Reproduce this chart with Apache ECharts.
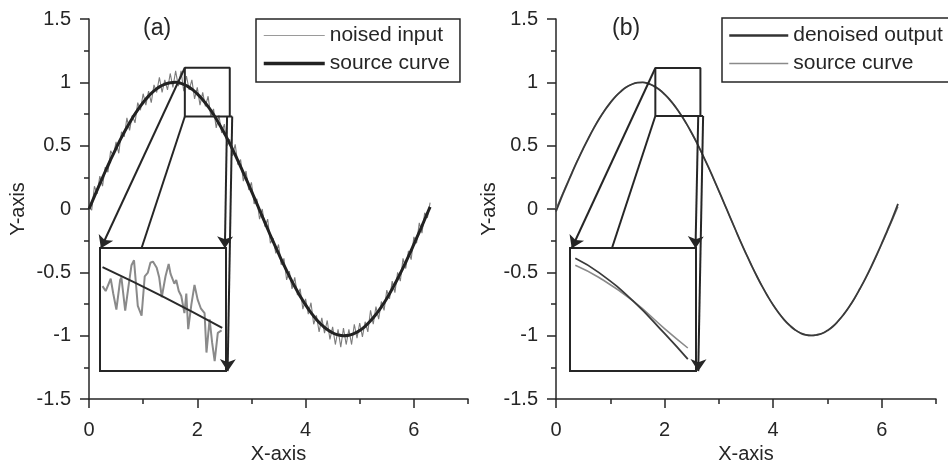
<!DOCTYPE html>
<html><head><meta charset="utf-8">
<script src="https://cdn.jsdelivr.net/npm/echarts@6/dist/echarts.min.js"></script>
<style>html,body{margin:0;padding:0;background:#fff}#c{width:948px;height:463px}</style>
</head><body><div id="c"></div>
<script>
// ---------- data ----------
const srcX = [0,0.1,0.2,0.3,0.4,0.5,0.6,0.7,0.8,0.9,1.0,1.1,1.2,1.3,1.4,1.5,1.6,1.7,1.8,1.9,2.0,2.1,2.2,2.3,2.4,2.5,2.6,2.7,2.8,2.9,3.0,3.1,3.2,3.3,3.4,3.5,3.6,3.7,3.8,3.9,4.0,4.1,4.2,4.3,4.4,4.5,4.6,4.7,4.8,4.9,5.0,5.1,5.2,5.3,5.4,5.5,5.6,5.7,5.8,5.9,6.0,6.1,6.2,6.3];
const srcY = [0.000,0.100,0.199,0.296,0.389,0.479,0.565,0.644,0.717,0.783,0.841,0.891,0.932,0.964,0.985,0.997,1.000,0.992,0.974,0.946,0.909,0.863,0.808,0.746,0.675,0.598,0.516,0.427,0.335,0.239,0.141,0.042,-0.058,-0.158,-0.256,-0.351,-0.443,-0.530,-0.612,-0.688,-0.757,-0.818,-0.872,-0.916,-0.952,-0.978,-0.994,-1.000,-0.996,-0.982,-0.959,-0.926,-0.883,-0.832,-0.773,-0.706,-0.631,-0.551,-0.465,-0.374,-0.279,-0.182,-0.083,0.017];
const denoisedY = [-0.02,0.09,0.19,0.29,0.385,0.475,0.56,0.64,0.715,0.78,0.838,0.889,0.93,0.963,0.985,0.997,1.0,0.99,0.97,0.943,0.905,0.86,0.806,0.745,0.676,0.6,0.518,0.43,0.338,0.242,0.143,0.043,-0.058,-0.158,-0.257,-0.352,-0.444,-0.531,-0.613,-0.689,-0.758,-0.819,-0.873,-0.917,-0.953,-0.979,-0.994,-0.998,-0.993,-0.983,-0.96,-0.928,-0.884,-0.832,-0.772,-0.704,-0.628,-0.547,-0.46,-0.368,-0.272,-0.172,-0.07,0.04];
const noiseX = [0,0.05,0.1,0.15,0.2,0.25,0.3,0.35,0.4,0.45,0.5,0.55,0.6,0.65,0.7,0.75,0.8,0.85,0.9,0.95,1.0,1.05,1.1,1.15,1.2,1.25,1.3,1.35,1.4,1.45,1.5,1.55,1.6,1.65,1.7,1.75,1.8,1.85,1.9,1.95,2.0,2.05,2.1,2.15,2.2,2.25,2.3,2.35,2.4,2.45,2.5,2.55,2.6,2.65,2.7,2.75,2.8,2.85,2.9,2.95,3.0,3.05,3.1,3.15,3.2,3.25,3.3,3.35,3.4,3.45,3.5,3.55,3.6,3.65,3.7,3.75,3.8,3.85,3.9,3.95,4.0,4.05,4.1,4.15,4.2,4.25,4.3,4.35,4.4,4.45,4.5,4.55,4.6,4.65,4.7,4.75,4.8,4.85,4.9,4.95,5.0,5.05,5.1,5.15,5.2,5.25,5.3,5.35,5.4,5.45,5.5,5.55,5.6,5.65,5.7,5.75,5.8,5.85,5.9,5.95,6.0,6.05,6.1,6.15,6.2,6.25,6.3];
const noiseY = [0.02,-0.01,0.18,0.12,0.26,0.18,0.33,0.29,0.46,0.42,
  0.53,0.44,0.61,0.57,0.72,0.62,0.74,0.68,0.84,0.78,
  0.91,0.82,0.93,0.84,0.98,0.92,1.04,0.92,1.02,0.94,
  1.07,0.96,1.09,0.97,1.09,0.93,1.05,0.94,1.02,0.87,
  0.96,0.82,0.92,0.81,0.89,0.73,0.79,0.64,0.74,0.60,
  0.67,0.50,0.55,0.42,0.51,0.35,0.39,0.22,0.30,0.15,
  0.21,0.04,0.08,-0.08,0.00,-0.14,-0.08,-0.27,-0.23,-0.35,
  -0.28,-0.44,-0.39,-0.56,-0.49,-0.63,-0.54,-0.68,-0.63,-0.79,
  -0.71,-0.83,-0.74,-0.91,-0.84,-0.97,-0.86,-0.98,-0.88,-1.03,
  -0.93,-1.07,-0.95,-1.09,-0.94,-1.07,-0.95,-1.07,-0.91,-1.02,
  -0.90,-1.01,-0.89,-0.97,-0.80,-0.91,-0.77,-0.87,-0.73,-0.80,
  -0.64,-0.71,-0.57,-0.66,-0.50,-0.57,-0.39,-0.47,-0.33,-0.40,
  -0.22,-0.27,-0.11,-0.19,-0.03,-0.07,0.05];
// inset (a): zoomed noisy input and source line (inset units 0..100)
const insetNoiseX = [2,4.5,8.5,10.5,13,16,17,20,22.5,25,27,30,33,35.5,38,40,42,45,47,49,52,54.5,56,59,60.5,62.5,64.5,67,68.5,70,72.5,75,77.5,80,83,84.5,87,89,91,93.5,96.5];
const insetNoiseY = [69,65,75,63,50,74,76,49,68,86,90,53,45,77,80,88,89,84,76,60,77,87,79,71,74,65,61,47,63,34,54,70,58,51,47,15,42,23,8,31,33];
const insetSrcAX = [2,50,97];
const insetSrcAY = [84.5,60.5,35];
// inset (b): zoomed denoised output and source curve
const insetBX = [4.2,23,50,75,93.5];
const insetDenY = [91.7,80,57,30.5,9.6];
const insetSrcBY = [86,76,57,34.5,18.7];
// zoom frames and connector arrows (data units)
const frameAX = [2.645,1.77,1.77,2.6,2.6];
const frameAY = [0.73,0.73,1.115,1.115,0.73];
const frameBX = [2.71,1.83,1.83,2.66,2.66];
const frameBY = [0.734,0.734,1.113,1.113,0.734];
const arrowsA = [[1.77,1.115,0.22,-0.31],[2.55,0.73,2.51,-0.31],[2.645,0.73,2.56,-1.28]];
const linksA = [[1.77,0.73,0.97,-0.31]];
const arrowsB = [[1.83,1.113,0.29,-0.31],[2.62,0.734,2.57,-0.31],[2.71,0.734,2.62,-1.28]];
const linksB = [[1.83,0.734,1.03,-0.31]];
const xMajor = [0,2,4,6];
const xMinor = [1,3,5,7];

// ---------- build ----------
const FONT = 'Liberation Sans, Arial, sans-serif';
const DARK = '#262626';
const zip = (xs, ys) => xs.map((x, i) => [x, ys[i]]);
function mlData(arr, arrow) {
  return arr.map(a => [
    {coord: [a[0], a[1]], symbol: 'none'},
    {coord: [a[2], a[3]], symbol: arrow ? 'arrow' : 'none', symbolSize: 12}
  ]);
}
function mainX(grid) {
  return [{
    gridIndex: grid, type: 'value', min: 0, max: 7,
    axisLine: {onZero: false, lineStyle: {color: DARK, width: 1.5}},
    axisTick: {customValues: xMajor, length: 9, inside: false, lineStyle: {color: DARK, width: 1.5}},
    axisLabel: {customValues: xMajor, fontSize: 20, color: DARK, fontFamily: FONT, margin: 21},
    splitLine: {show: false},
    name: 'X-axis', nameLocation: 'middle', nameGap: 44,
    nameTextStyle: {fontSize: 20, color: DARK, fontFamily: FONT}
  }, {
    gridIndex: grid, type: 'value', min: 0, max: 7, position: 'bottom',
    axisLine: {show: false, onZero: false},
    axisTick: {customValues: xMinor, length: 5, lineStyle: {color: DARK, width: 1.5}},
    axisLabel: {show: false}, splitLine: {show: false}
  }];
}
function mainY(grid, gap) {
  return {
    gridIndex: grid, type: 'value', min: -1.5, max: 1.5, interval: 0.5,
    axisLine: {onZero: false, lineStyle: {color: DARK, width: 1.5}},
    axisTick: {length: 9, lineStyle: {color: DARK, width: 1.5}},
    minorTick: {show: true, splitNumber: 2, length: 5, lineStyle: {color: DARK, width: 1.5}},
    axisLabel: {fontSize: 20, color: DARK, fontFamily: FONT, margin: 18},
    splitLine: {show: false},
    name: 'Y-axis', nameLocation: 'middle', nameGap: gap, nameRotate: 90,
    nameTextStyle: {fontSize: 20, color: DARK, fontFamily: FONT}
  };
}
function hiddenAxis(grid) {
  return {gridIndex: grid, type: 'value', min: 0, max: 100, show: false, splitLine: {show: false}};
}
const arrowLine = {
  silent: true, animation: false, symbol: ['none', 'arrow'], symbolSize: 12,
  label: {show: false}, emphasis: {disabled: true},
  itemStyle: {color: DARK},
  lineStyle: {color: DARK, width: 2, type: 'solid'}
};
const noIcon = {color: 'rgba(0,0,0,0)', opacity: 0, borderWidth: 0};

const option = {
  animation: false,
  backgroundColor: '#fff',
  title: [
    {text: '(a)', left: 143, top: 17, padding: 0, textStyle: {fontSize: 23, fontWeight: 'normal', color: DARK, fontFamily: FONT}},
    {text: '(b)', left: 612, top: 17, padding: 0, textStyle: {fontSize: 23, fontWeight: 'normal', color: DARK, fontFamily: FONT}}
  ],
  legend: [
    {left: 256, top: 19, orient: 'vertical', itemWidth: 61, itemHeight: 20, itemGap: 7,
     padding: [6, 10, 8, 6], borderColor: DARK, borderWidth: 1.5, selectedMode: false,
     itemStyle: noIcon,
     textStyle: {fontSize: 21, color: DARK, fontFamily: FONT},
     data: [{name: 'noised input', itemStyle: noIcon, lineStyle: {color: '#9a9a9a', width: 1.2}},
            {name: 'source curve', itemStyle: noIcon, lineStyle: {color: '#222', width: 3.5}}]},
    {left: 722, top: 18, orient: 'vertical', itemWidth: 59, itemHeight: 20, itemGap: 7,
     padding: [7, 10, 8, 6], borderColor: DARK, borderWidth: 1.5, selectedMode: false,
     itemStyle: noIcon,
     textStyle: {fontSize: 21, color: DARK, fontFamily: FONT},
     data: [{name: 'denoised output', itemStyle: noIcon, lineStyle: {color: '#333', width: 2.5}},
            {name: 'source curve', itemStyle: noIcon, lineStyle: {color: '#8a8a8a', width: 1.5}}]}
  ],
  grid: [
    {left: 89, top: 19, width: 379, height: 380, outerBoundsMode: 'none', containLabel: false},
    {left: 556, top: 19, width: 380, height: 380, outerBoundsMode: 'none', containLabel: false},
    {left: 100, top: 248, width: 126, height: 123, outerBoundsMode: 'none', show: true, backgroundColor: '#fff', borderColor: DARK, borderWidth: 2},
    {left: 570, top: 248, width: 126, height: 123, outerBoundsMode: 'none', show: true, backgroundColor: '#fff', borderColor: DARK, borderWidth: 2}
  ],
  xAxis: [...mainX(0), ...mainX(1), hiddenAxis(2), hiddenAxis(3)],
  yAxis: [mainY(0, 61), mainY(1, 55), hiddenAxis(2), hiddenAxis(3)],
  series: [
    {name: 'noised input', type: 'line', xAxisIndex: 0, yAxisIndex: 0, symbol: 'none',
     data: zip(noiseX, noiseY), lineStyle: {color: '#7c7c7c', width: 1.1}, z: 2},
    {name: 'source curve', type: 'line', xAxisIndex: 0, yAxisIndex: 0, symbol: 'none', smooth: true,
     data: zip(srcX, srcY), lineStyle: {color: '#222', width: 3}, z: 3},
    {name: 'frameA', type: 'line', xAxisIndex: 0, yAxisIndex: 0, symbol: 'none', silent: true,
     data: zip(frameAX, frameAY), lineStyle: {color: DARK, width: 2}, z: 4,
     markLine: Object.assign({}, arrowLine, {data: mlData(arrowsA, true).concat(mlData(linksA, false))})},
    {name: 'source curve', type: 'line', xAxisIndex: 2, yAxisIndex: 1, symbol: 'none', smooth: true,
     data: zip(srcX, srcY), lineStyle: {color: '#777', width: 1.3}, z: 2},
    {name: 'denoised output', type: 'line', xAxisIndex: 2, yAxisIndex: 1, symbol: 'none', smooth: true,
     data: zip(srcX, denoisedY), lineStyle: {color: '#3a3a3a', width: 1.8}, z: 3},
    {name: 'frameB', type: 'line', xAxisIndex: 2, yAxisIndex: 1, symbol: 'none', silent: true,
     data: zip(frameBX, frameBY), lineStyle: {color: DARK, width: 2}, z: 4,
     markLine: Object.assign({}, arrowLine, {data: mlData(arrowsB, true).concat(mlData(linksB, false))})},
    {name: 'insetNoiseA', type: 'line', xAxisIndex: 4, yAxisIndex: 2, symbol: 'none',
     data: zip(insetNoiseX, insetNoiseY), lineStyle: {color: '#8a8a8a', width: 2}, z: 5},
    {name: 'insetSrcA', type: 'line', xAxisIndex: 4, yAxisIndex: 2, symbol: 'none', smooth: true,
     data: zip(insetSrcAX, insetSrcAY), lineStyle: {color: '#2a2a2a', width: 2}, z: 6},
    {name: 'insetSrcB', type: 'line', xAxisIndex: 5, yAxisIndex: 3, symbol: 'none', smooth: true,
     data: zip(insetBX, insetSrcBY), lineStyle: {color: '#8a8a8a', width: 1.6}, z: 5},
    {name: 'insetDenB', type: 'line', xAxisIndex: 5, yAxisIndex: 3, symbol: 'none', smooth: true,
     data: zip(insetBX, insetDenY), lineStyle: {color: '#3a3a3a', width: 1.8}, z: 6}
  ]
};
const chart = echarts.init(document.getElementById('c'), null, {renderer: 'canvas'});
chart.setOption(option);
</script></body></html>
